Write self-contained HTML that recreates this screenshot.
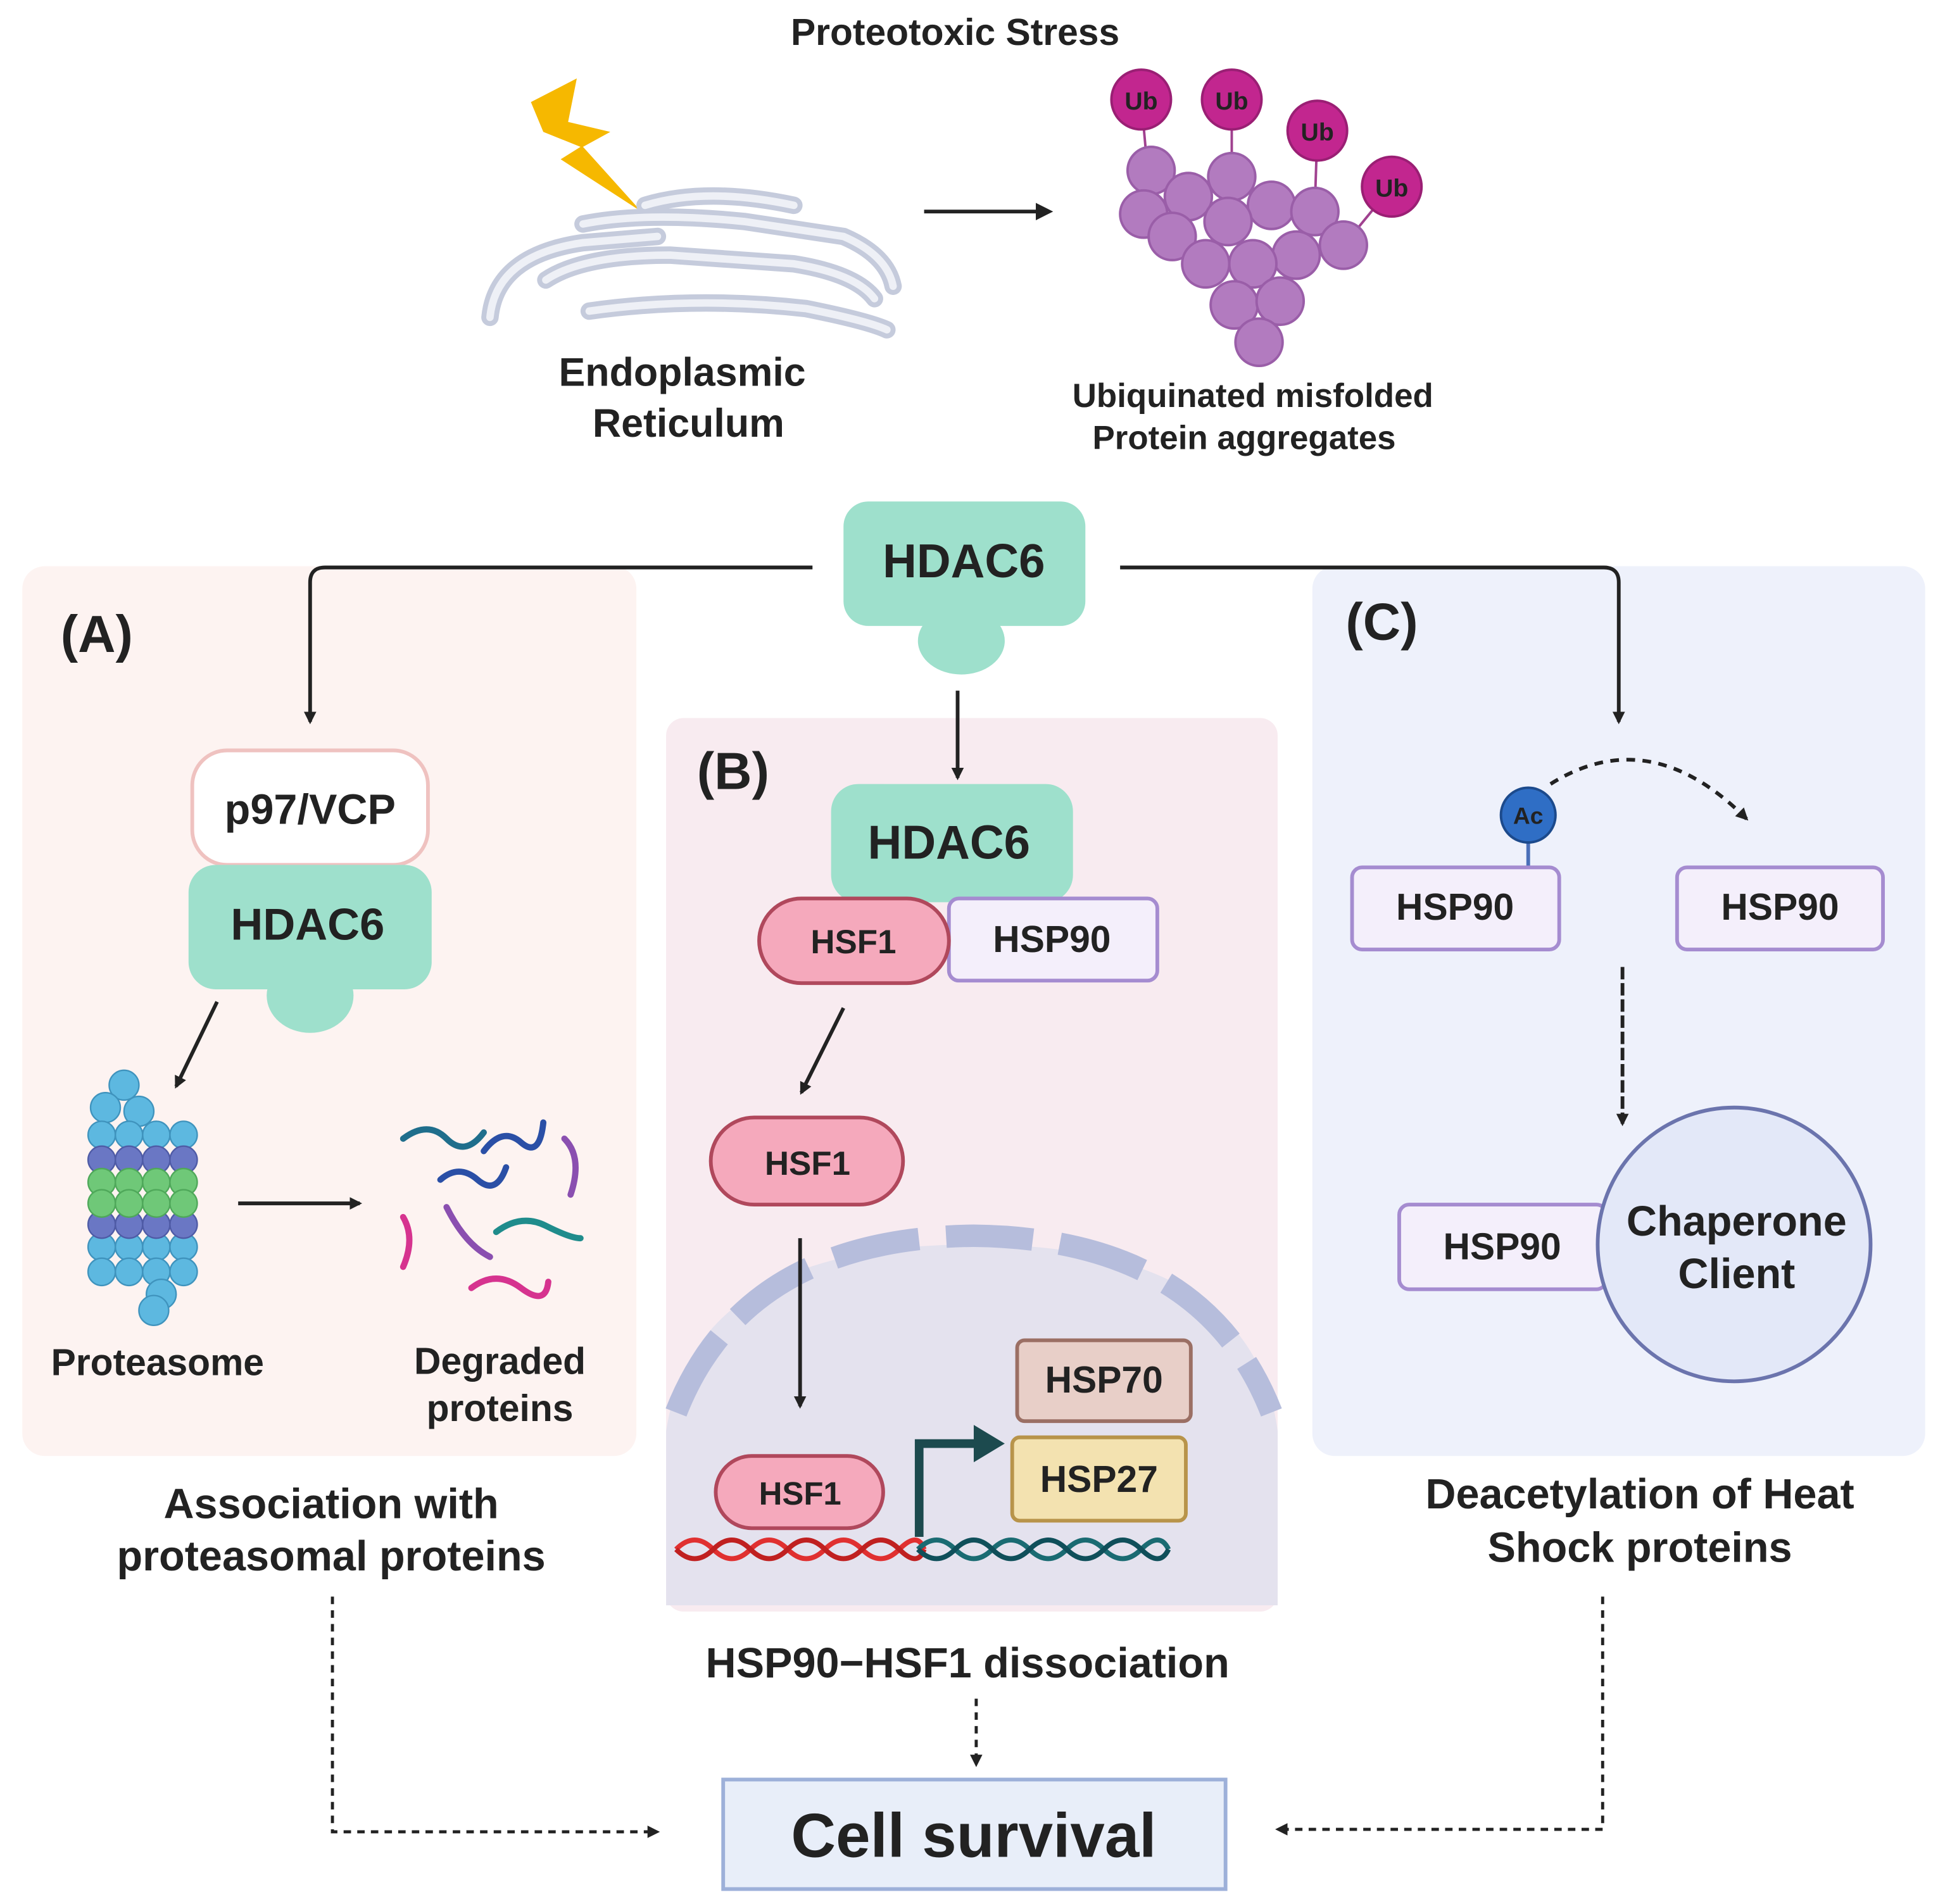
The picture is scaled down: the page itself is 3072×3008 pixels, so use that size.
<!DOCTYPE html>
<html><head><meta charset="utf-8"><style>
html,body{margin:0;padding:0;background:#fff}
svg{display:block}
text{font-family:"Liberation Sans",sans-serif;font-weight:bold;fill:#222;text-anchor:middle}
</style></head><body>
<svg width="3072" height="3008" viewBox="0 0 1568 1530" preserveAspectRatio="none" xmlns="http://www.w3.org/2000/svg">
<defs>
<marker id="ah" markerWidth="10" markerHeight="10" refX="8" refY="5" orient="auto" markerUnits="userSpaceOnUse"><path d="M0,0 L10,5 L0,10 z" fill="#222"/></marker>
<marker id="ah2" markerWidth="14" markerHeight="14" refX="10" refY="7" orient="auto" markerUnits="userSpaceOnUse"><path d="M0,0 L14,7 L0,14 z" fill="#222"/></marker>
</defs>
<rect width="1568" height="1530" fill="#fff"/>
<rect x="18" y="455" width="495" height="715" rx="18" fill="#fdf3f1"/>
<rect x="537" y="577" width="493" height="718" rx="14" fill="#f8ebf0"/>
<rect x="1058" y="455" width="494" height="715" rx="18" fill="#eef1fb"/>

<text x="770" y="36" font-size="30">Proteotoxic Stress</text>
<polygon points="428,82 465,63 458,98 492,106 470,118 517,170 452,128 468,118 438,106" fill="#f6b800"/>
<g fill="none" stroke="#c5cbdc" stroke-width="14" stroke-linecap="round">
<path d="M395,255 Q400,205 470,195 L530,190"/>
<path d="M440,225 Q470,205 540,205 L640,212 Q690,220 705,240"/>
<path d="M470,180 Q520,170 600,178 L680,190 Q715,205 720,230"/>
<path d="M475,250 Q560,238 650,248 Q700,258 715,265"/>
<path d="M520,165 Q570,150 640,165"/>
</g>
<g fill="none" stroke="#eef0f6" stroke-width="6" stroke-linecap="round">
<path d="M395,255 Q400,205 470,195 L530,190"/>
<path d="M440,225 Q470,205 540,205 L640,212 Q690,220 705,240"/>
<path d="M470,180 Q520,170 600,178 L680,190 Q715,205 720,230"/>
<path d="M475,250 Q560,238 650,248 Q700,258 715,265"/>
<path d="M520,165 Q570,150 640,165"/>
</g>
<text x="550" y="310" font-size="32" fill="#333">Endoplasmic</text>
<text x="555" y="351" font-size="32" fill="#333">Reticulum</text>
<line x1="745" y1="170" x2="845" y2="170" stroke="#222" stroke-width="3" marker-end="url(#ah2)"/>
<g stroke="#a0418f" stroke-width="2">
<line x1="920" y1="80" x2="925" y2="135"/><line x1="993" y1="80" x2="993" y2="140"/>
<line x1="1062" y1="105" x2="1060" y2="165"/><line x1="1122" y1="150" x2="1085" y2="195"/>
</g>
<g fill="#b27bbf" stroke="#9a5ea8" stroke-width="2">
<circle cx="928" cy="137" r="19"/><circle cx="993" cy="142" r="19"/><circle cx="922" cy="172" r="19"/><circle cx="958" cy="158" r="19"/>
<circle cx="1025" cy="165" r="19"/><circle cx="1060" cy="170" r="19"/><circle cx="990" cy="178" r="19"/><circle cx="945" cy="190" r="19"/>
<circle cx="1083" cy="197" r="19"/><circle cx="1045" cy="205" r="19"/><circle cx="972" cy="212" r="19"/><circle cx="1010" cy="212" r="19"/>
<circle cx="995" cy="245" r="19"/><circle cx="1032" cy="242" r="19"/><circle cx="1015" cy="275" r="19"/>
</g>
<g fill="#c2268f" stroke="#9a1f74" stroke-width="2">
<circle cx="920" cy="80" r="24"/><circle cx="993" cy="80" r="24"/><circle cx="1062" cy="105" r="24"/><circle cx="1122" cy="150" r="24"/>
</g>
<g font-size="20"><text x="920" y="88" fill="#fff">Ub</text><text x="993" y="88" fill="#fff">Ub</text><text x="1062" y="113" fill="#fff">Ub</text><text x="1122" y="158" fill="#fff">Ub</text></g>
<text x="1010" y="327" font-size="27">Ubiquinated misfolded</text>
<text x="1003" y="361" font-size="27">Protein aggregates</text>

<rect x="680" y="403" width="195" height="100" rx="20" fill="#9ee0cc"/>
<ellipse cx="775" cy="515" rx="35" ry="27" fill="#9ee0cc"/>
<text x="777" y="464" font-size="38">HDAC6</text>
<path d="M655,456 L262,456 Q250,456 250,468 L250,580" fill="none" stroke="#222" stroke-width="3" marker-end="url(#ah)"/>
<path d="M903,456 L1293,456 Q1305,456 1305,468 L1305,580" fill="none" stroke="#222" stroke-width="3" marker-end="url(#ah)"/>
<line x1="772" y1="555" x2="772" y2="625" stroke="#222" stroke-width="3" marker-end="url(#ah)"/>

<text x="78" y="524" font-size="42">(A)</text>
<text x="591" y="634" font-size="42">(B)</text>
<text x="1114" y="514" font-size="42">(C)</text>

<rect x="155" y="603" width="190" height="92" rx="28" fill="#fff" stroke="#efc2c0" stroke-width="3"/>
<text x="250" y="662" font-size="34">p97/VCP</text>
<rect x="152" y="695" width="196" height="100" rx="22" fill="#9ee0cc"/>
<ellipse cx="250" cy="800" rx="35" ry="30" fill="#9ee0cc"/>
<text x="248" y="755" font-size="36">HDAC6</text>
<line x1="175" y1="805" x2="142" y2="873" stroke="#222" stroke-width="3" marker-end="url(#ah)"/>
<!-- proteasome as circle grid -->
<g stroke-width="1.2">
<g fill="#5db8e0" stroke="#3f93bd">
<circle cx="100" cy="872" r="12"/><circle cx="85" cy="890" r="12"/><circle cx="112" cy="893" r="12"/>
<circle cx="82" cy="912" r="11"/><circle cx="104" cy="912" r="11"/><circle cx="126" cy="912" r="11"/><circle cx="148" cy="912" r="11"/>
<circle cx="82" cy="1002" r="11"/><circle cx="104" cy="1002" r="11"/><circle cx="126" cy="1002" r="11"/><circle cx="148" cy="1002" r="11"/>
<circle cx="82" cy="1022" r="11"/><circle cx="104" cy="1022" r="11"/><circle cx="126" cy="1022" r="11"/><circle cx="148" cy="1022" r="11"/>
<circle cx="130" cy="1040" r="12"/><circle cx="124" cy="1053" r="12"/>
</g>
<g fill="#6a77c4" stroke="#4f5ba6">
<circle cx="82" cy="932" r="11"/><circle cx="104" cy="932" r="11"/><circle cx="126" cy="932" r="11"/><circle cx="148" cy="932" r="11"/>
<circle cx="82" cy="984" r="11"/><circle cx="104" cy="984" r="11"/><circle cx="126" cy="984" r="11"/><circle cx="148" cy="984" r="11"/>
</g>
<g fill="#6fc878" stroke="#4fa85a">
<circle cx="82" cy="950" r="11"/><circle cx="104" cy="950" r="11"/><circle cx="126" cy="950" r="11"/><circle cx="148" cy="950" r="11"/>
<circle cx="82" cy="967" r="11"/><circle cx="104" cy="967" r="11"/><circle cx="126" cy="967" r="11"/><circle cx="148" cy="967" r="11"/>
</g>
</g>
<line x1="192" y1="967" x2="290" y2="967" stroke="#222" stroke-width="3" marker-end="url(#ah)"/>
<g fill="none" stroke-width="5" stroke-linecap="round">
<path d="M325,915 Q345,900 360,915 T390,910" stroke="#1f6e8c"/>
<path d="M390,925 Q405,905 420,918 T438,902" stroke="#2a4fa6"/>
<path d="M455,915 Q470,930 460,960" stroke="#8a4fb0"/>
<path d="M355,948 Q370,935 385,948 T408,938" stroke="#2a4fa6"/>
<path d="M325,978 Q335,995 325,1018" stroke="#d6338f"/>
<path d="M360,970 Q375,1000 395,1010" stroke="#8a4fb0"/>
<path d="M400,990 Q420,975 440,985 T468,995" stroke="#1f8c8c"/>
<path d="M380,1035 Q400,1020 420,1035 T442,1030" stroke="#d6338f"/>
</g>
<text x="127" y="1105" font-size="30">Proteasome</text>
<text x="403" y="1104" font-size="30">Degraded</text>
<text x="403" y="1142" font-size="30">proteins</text>
<text x="267" y="1220" font-size="34">Association with</text>
<text x="267" y="1262" font-size="34">proteasomal proteins</text>

<path d="M537,1290 L537,1150 Q560,1000 785,1000 Q1010,1000 1030,1150 L1030,1290 Z" fill="#e4e2ee"/>
<path d="M545,1135 Q600,995 785,993 Q970,995 1025,1135" fill="none" stroke="#b6bddc" stroke-width="18" stroke-dasharray="70,22"/>
<rect x="670" y="630" width="195" height="95" rx="22" fill="#9ee0cc"/>
<text x="765" y="690" font-size="38">HDAC6</text>
<rect x="765" y="722" width="168" height="66" rx="8" fill="#f4effb" stroke="#a58cd0" stroke-width="3"/>
<text x="848" y="765" font-size="30">HSP90</text>
<rect x="612" y="722" width="153" height="68" rx="34" fill="#f5a9bc" stroke="#b0485c" stroke-width="3"/>
<text x="688" y="766" font-size="27">HSF1</text>
<line x1="680" y1="810" x2="646" y2="878" stroke="#222" stroke-width="3" marker-end="url(#ah)"/>
<rect x="573" y="898" width="155" height="70" rx="35" fill="#f5a9bc" stroke="#b0485c" stroke-width="3"/>
<text x="651" y="944" font-size="27">HSF1</text>
<line x1="645" y1="995" x2="645" y2="1130" stroke="#222" stroke-width="3" marker-end="url(#ah)"/>
<g fill="none" stroke-width="4">
<path d="M545,1245 Q560,1230 575,1245 T605,1245 T635,1245 T665,1245 T695,1245 T725,1245 T745,1245" stroke="#e03030"/>
<path d="M545,1245 Q560,1260 575,1245 T605,1245 T635,1245 T665,1245 T695,1245 T725,1245 T745,1245" stroke="#c02020"/>
<path d="M740,1245 Q755,1230 770,1245 T800,1245 T830,1245 T860,1245 T890,1245 T920,1245 T942,1245" stroke="#1a6b72"/>
<path d="M740,1245 Q755,1260 770,1245 T800,1245 T830,1245 T860,1245 T890,1245 T920,1245 T942,1245" stroke="#0f4f5a"/>
</g>
<rect x="577" y="1170" width="135" height="58" rx="29" fill="#f5a9bc" stroke="#b0485c" stroke-width="3"/>
<text x="645" y="1209" font-size="26">HSF1</text>
<path d="M741,1235 L741,1160 L790,1160" fill="none" stroke="#1c4a4e" stroke-width="7"/>
<polygon points="785,1145 810,1160 785,1175" fill="#1c4a4e"/>
<rect x="820" y="1077" width="140" height="65" rx="6" fill="#e8cfc8" stroke="#9b6f64" stroke-width="3"/>
<text x="890" y="1119" font-size="30">HSP70</text>
<rect x="816" y="1155" width="140" height="67" rx="6" fill="#f3e2b0" stroke="#b8944a" stroke-width="3"/>
<text x="886" y="1199" font-size="30">HSP27</text>
<text x="780" y="1348" font-size="34">HSP90−HSF1 dissociation</text>
<line x1="787" y1="1365" x2="787" y2="1418" stroke="#222" stroke-width="2.5" stroke-dasharray="6,5" marker-end="url(#ah)"/>

<path d="M1250,630 Q1330,580 1408,658" fill="none" stroke="#222" stroke-width="3" stroke-dasharray="7,6" marker-end="url(#ah)"/>
<line x1="1232" y1="670" x2="1232" y2="697" stroke="#4a6fb8" stroke-width="3"/>
<circle cx="1232" cy="655" r="22" fill="#2f6ec5" stroke="#1c4a8c" stroke-width="2"/>
<text x="1232" y="662" font-size="19" fill="#fff">Ac</text>
<rect x="1090" y="697" width="167" height="66" rx="8" fill="#f4effb" stroke="#a58cd0" stroke-width="3"/>
<text x="1173" y="739" font-size="30">HSP90</text>
<rect x="1352" y="697" width="166" height="66" rx="8" fill="#f4effb" stroke="#a58cd0" stroke-width="3"/>
<text x="1435" y="739" font-size="30">HSP90</text>
<line x1="1308" y1="777" x2="1308" y2="903" stroke="#222" stroke-width="3" stroke-dasharray="10,3" marker-end="url(#ah)"/>
<rect x="1128" y="968" width="167" height="68" rx="8" fill="#f4effb" stroke="#a58cd0" stroke-width="3"/>
<text x="1211" y="1012" font-size="30">HSP90</text>
<circle cx="1398" cy="1000" r="110" fill="#e3e8f8" stroke="#6b74ad" stroke-width="3"/>
<text x="1400" y="993" font-size="34">Chaperone</text>
<text x="1400" y="1035" font-size="34">Client</text>
<text x="1322" y="1212" font-size="34">Deacetylation of Heat</text>
<text x="1322" y="1255" font-size="34">Shock proteins</text>

<path d="M268,1283 L268,1472 L530,1472" fill="none" stroke="#222" stroke-width="2.5" stroke-dasharray="6,5" marker-end="url(#ah)"/>
<path d="M1292,1283 L1292,1470 L1030,1470" fill="none" stroke="#222" stroke-width="2.5" stroke-dasharray="6,5" marker-end="url(#ah)"/>
<rect x="583" y="1430" width="405" height="88" fill="#e8eef9" stroke="#9db0d9" stroke-width="3"/>
<text x="785" y="1492" font-size="50">Cell survival</text>
</svg>
</body></html>
